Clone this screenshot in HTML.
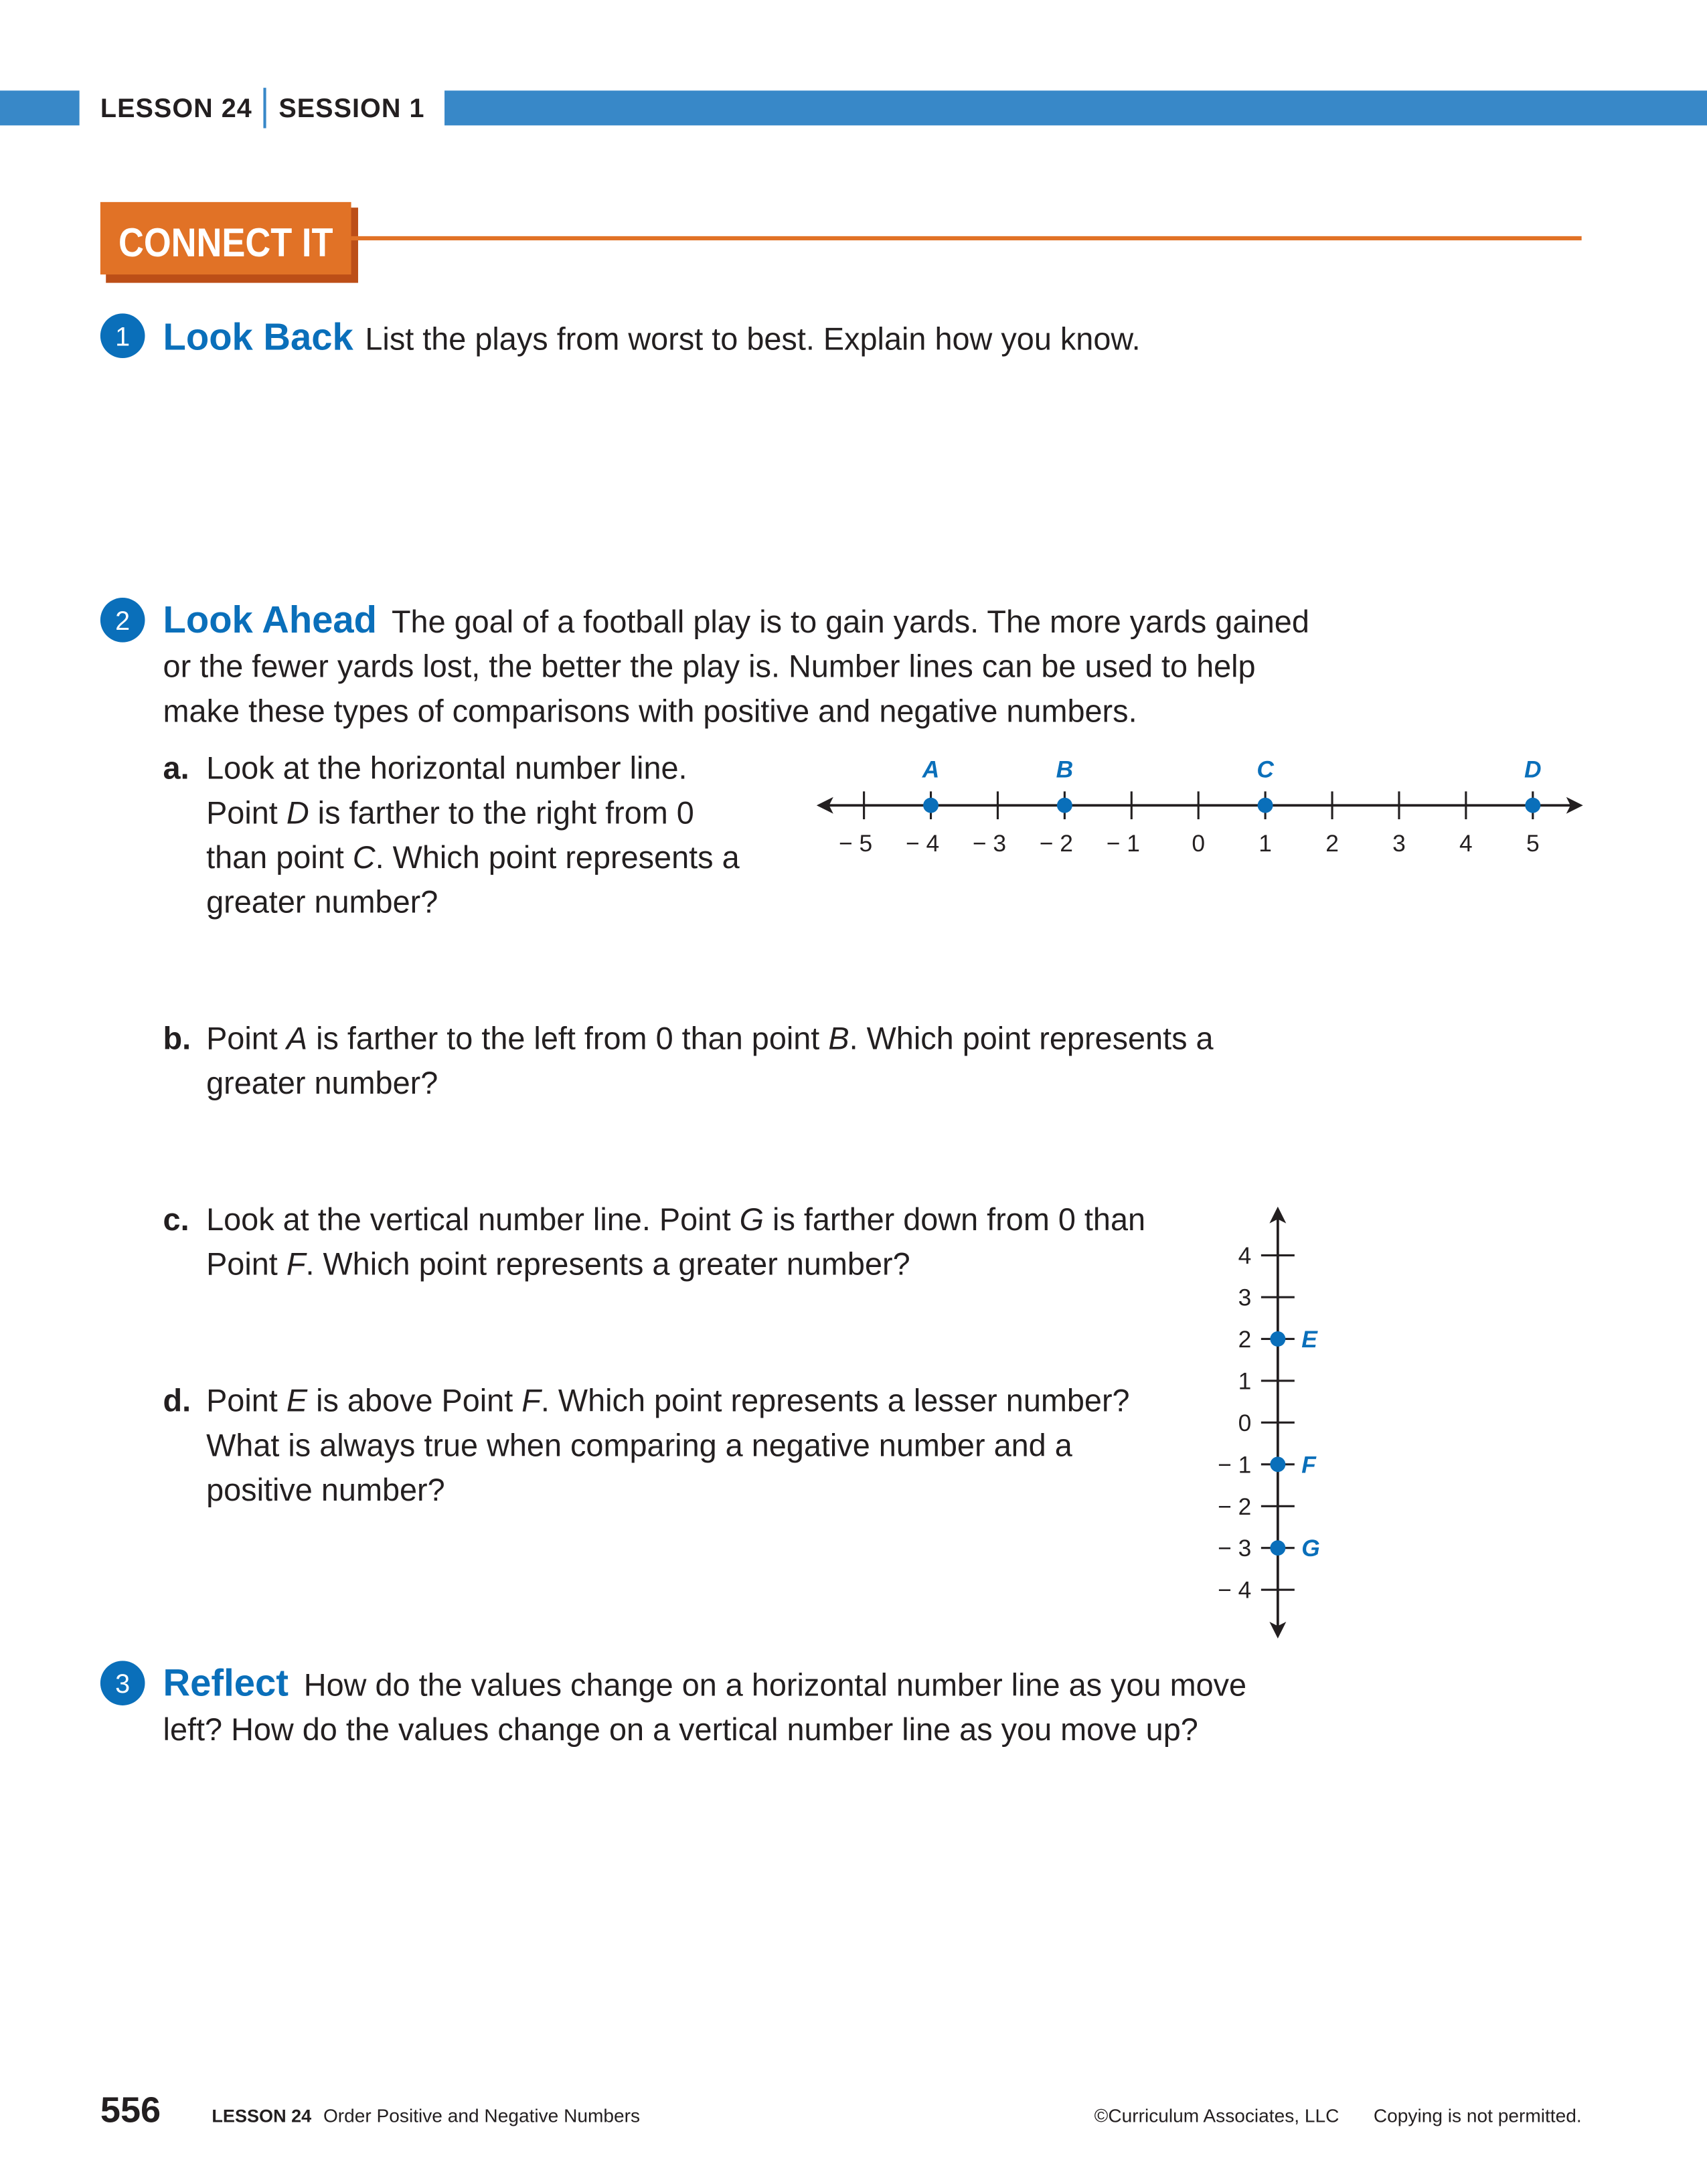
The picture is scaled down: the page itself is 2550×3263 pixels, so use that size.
<!DOCTYPE html>
<html><head><meta charset="utf-8"><style>
html,body{margin:0;padding:0;background:#fff;}
svg{display:block;}
text{font-family:"Liberation Sans",sans-serif;}
.t{font-size:22.5px;fill:#231f20;}
.h{font-size:27px;font-weight:bold;fill:#0a6fba;}
</style></head><body>
<svg width="2550" height="3263" viewBox="0 0 1225 1567.5" xmlns="http://www.w3.org/2000/svg">
<g>
<rect x="0" y="65" width="57" height="25" fill="#3888c8"/>
<rect x="319" y="65" width="906" height="25" fill="#3888c8"/>
<text x="72" y="84" font-size="19" font-weight="bold" fill="#231f20" letter-spacing="0.5">LESSON 24</text>
<rect x="189" y="63" width="2" height="29" fill="#3888c8"/>
<text x="200" y="84" font-size="19" font-weight="bold" fill="#231f20" letter-spacing="0.5">SESSION 1</text>
</g>
<g>
<rect x="76" y="149" width="181" height="54" fill="#bc4e17"/>
<rect x="72" y="145" width="180" height="52" fill="#e17226"/>
<rect x="252" y="169.5" width="883" height="3" fill="#e17226"/>
<text x="162" y="184" text-anchor="middle" font-size="29" font-weight="bold" fill="#fff" textLength="154" lengthAdjust="spacingAndGlyphs">CONNECT IT</text>
</g>
<g>
<circle cx="88" cy="241" r="16" fill="#0a6fba"/>
<text x="88" y="248" text-anchor="middle" font-size="19" fill="#fff">1</text>
<text x="117" y="251" class="h">Look Back</text>
<text x="262" y="251" class="t">List the plays from worst to best. Explain how you know.</text>
</g>
<g>
<circle cx="88" cy="445" r="16" fill="#0a6fba"/>
<text x="88" y="452" text-anchor="middle" font-size="19" fill="#fff">2</text>
<text x="117" y="454" class="h">Look Ahead</text>
<text x="281" y="454" class="t">The goal of a football play is to gain yards. The more yards gained</text>
<text x="117" y="486" class="t">or the fewer yards lost, the better the play is. Number lines can be used to help</text>
<text x="117" y="518" class="t">make these types of comparisons with positive and negative numbers.</text>
<text x="117" y="559" class="t" font-weight="bold">a.</text>
<text x="148" y="559" class="t">Look at the horizontal number line.</text>
<text x="148" y="591" class="t">Point <tspan font-style="italic">D</tspan> is farther to the right from 0</text>
<text x="148" y="623" class="t">than point <tspan font-style="italic">C</tspan>. Which point represents a</text>
<text x="148" y="655" class="t">greater number?</text>
<text x="117" y="753" class="t" font-weight="bold">b.</text>
<text x="148" y="753" class="t">Point <tspan font-style="italic">A</tspan> is farther to the left from 0 than point <tspan font-style="italic">B</tspan>. Which point represents a</text>
<text x="148" y="785" class="t">greater number?</text>
<text x="117" y="883" class="t" font-weight="bold">c.</text>
<text x="148" y="883" class="t">Look at the vertical number line. Point <tspan font-style="italic">G</tspan> is farther down from 0 than</text>
<text x="148" y="915" class="t">Point <tspan font-style="italic">F</tspan>. Which point represents a greater number?</text>
<text x="117" y="1013" class="t" font-weight="bold">d.</text>
<text x="148" y="1013" class="t">Point <tspan font-style="italic">E</tspan> is above Point <tspan font-style="italic">F</tspan>. Which point represents a lesser number?</text>
<text x="148" y="1045" class="t">What is always true when comparing a negative number and a</text>
<text x="148" y="1077" class="t">positive number?</text>
</g>
<g id="hline"></g>
<g id="vline"></g>
<g>
<circle cx="88" cy="1208" r="16" fill="#0a6fba"/>
<text x="88" y="1215" text-anchor="middle" font-size="19" fill="#fff">3</text>
<text x="117" y="1217" class="h">Reflect</text>
<text x="218" y="1217" class="t">How do the values change on a horizontal number line as you move</text>
<text x="117" y="1249" class="t">left? How do the values change on a vertical number line as you move up?</text>
</g>
<g>
<text x="72" y="1523" font-size="26" font-weight="bold" fill="#231f20">556</text>
<text x="152" y="1523" font-size="13" font-weight="bold" fill="#231f20">LESSON 24</text>
<text x="232" y="1523" font-size="13.5" fill="#231f20">Order Positive and Negative Numbers</text>
<text x="961" y="1523" text-anchor="end" font-size="13.5" fill="#231f20">©Curriculum Associates, LLC</text>
<text x="1135" y="1523" text-anchor="end" font-size="13.5" fill="#231f20">Copying is not permitted.</text>
</g>
</svg>
<script>
const hTicks=[-5,-4,-3,-2,-1,0,1,2,3,4,5];
const hPointLabels=['A','B','C','D'];
const hPointValues=[-4,-2,1,5];
const vTicks=[4,3,2,1,0,-1,-2,-3,-4];
const vPointLabels=['E','F','G'];
const vPointValues=[2,-1,-3];
const NS='http://www.w3.org/2000/svg';
function mk(p,tag,a,txt){const e=document.createElementNS(NS,tag);for(const k in a)e.setAttribute(k,a[k]);if(txt!==undefined)e.textContent=txt;p.appendChild(e);return e;}
const hx=v=>860+v*48, hy=578;
const H=document.getElementById('hline');
let e=mk(H,'line',{x1:592,y1:hy,x2:1130,y2:hy,stroke:'#231f20','stroke-width':1.8});

e=mk(H,'path',{d:`M586 ${hy} l12 -6 l-3 6 l3 6z M1136 ${hy} l-12 -6 l3 6 l-3 6z`,fill:'#231f20'});

hTicks.forEach(v=>{
 const t=mk(H,'line',{x1:hx(v),y1:hy-10,x2:hx(v),y2:hy+10,stroke:'#231f20','stroke-width':1.5});
 
 const l=mk(H,'text',{x:hx(v)-(v<0?6:0),y:611,'text-anchor':'middle','font-size':17,fill:'#231f20'},v<0?'\u2212 '+(-v):String(v));
 
});
hPointValues.forEach((v,i)=>{
 const c=mk(H,'circle',{cx:hx(v),cy:hy,r:5.5,fill:'#0a6fba'});
 
 const l=mk(H,'text',{x:hx(v),y:558,'text-anchor':'middle','font-size':17,'font-weight':'bold','font-style':'italic',fill:'#0a6fba'},hPointLabels[i]);
 
});
const vx=917, vy=v=>1021-v*30;
const V=document.getElementById('vline');
e=mk(V,'line',{x1:vx,y1:872,x2:vx,y2:1170,stroke:'#231f20','stroke-width':1.8});

e=mk(V,'path',{d:`M${vx} 866 l-6 12 l6 -3 l6 3z M${vx} 1176 l-6 -12 l6 3 l6 -3z`,fill:'#231f20'});

vTicks.forEach(v=>{
 const t=mk(V,'line',{x1:vx-12,y1:vy(v),x2:vx+12,y2:vy(v),stroke:'#231f20','stroke-width':1.5});
 
 const l=mk(V,'text',{x:898,y:vy(v)+6,'text-anchor':'end','font-size':17,fill:'#231f20'},v<0?'\u2212 '+(-v):String(v));
 
});
vPointValues.forEach((v,i)=>{
 const c=mk(V,'circle',{cx:vx,cy:vy(v),r:5.5,fill:'#0a6fba'});
 
 const l=mk(V,'text',{x:934,y:vy(v)+6,'font-size':17,'font-weight':'bold','font-style':'italic',fill:'#0a6fba'},vPointLabels[i]);
 
});
</script>
</body></html>
